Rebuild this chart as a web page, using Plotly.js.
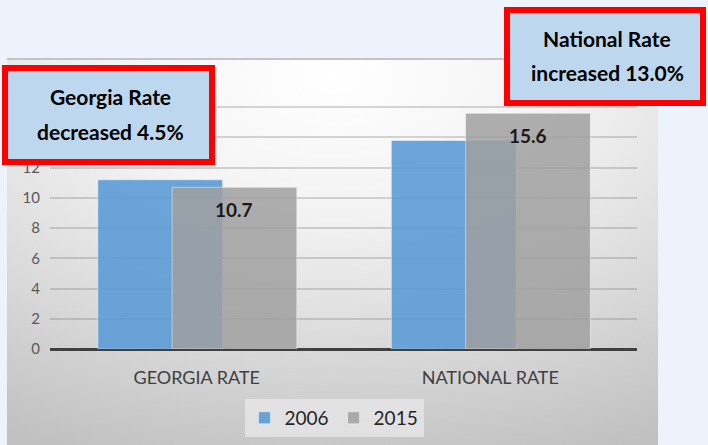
<!DOCTYPE html>
<html>
<head>
<meta charset="utf-8">
<script src="https://cdn.plot.ly/plotly-3.0.1.min.js"></script>
<style>
html,body{margin:0;padding:0;background:#EEF3FB;}
#chart{width:708px;height:445px;}
</style>
</head>
<body>
<div id="chart"></div>
<script>
// ---- data ----
const categories = ["GEORGIA RATE", "NATIONAL RATE"];
const seriesNames = ["2006", "2015"];
const values2006 = [11.2, 13.8];
const values2015 = [10.7, 15.6];
const yTicks = [0, 2, 4, 6, 8, 10, 12, 14, 16, 18];
const yTickText = ["0", "2", "4", "6", "8", "10", "12", "", "", ""]; // 14-18 hidden behind the callout
const boxGeorgia = ["Georgia Rate", "decreased 4.5%"];
const boxNational = ["National Rate", "increased 13.0%"];

// ---- layout helpers ----
const W = 708, H = 445;
const M = {l: 50, r: 71, t: 77, b: 96, autoexpand: false};
const PW = W - M.l - M.r, PH = H - M.t - M.b;
const px = x => (x - M.l) / PW;
const py = y => (H - M.b - y) / PH;

const barWidth = 0.425;
const off2006 = -0.337, off2015 = -0.084;
const font = "Lato, 'Open Sans', sans-serif";

const bg = "data:image/svg+xml;utf8," + encodeURIComponent(
 '<svg xmlns="http://www.w3.org/2000/svg" width="651" height="387" preserveAspectRatio="none">' +
 '<defs><radialGradient id="g" cx="0.5" cy="0.05" r="1.05" fx="0.5" fy="0.05">' +
 '<stop offset="0" stop-color="#FFFFFF"/><stop offset="0.35" stop-color="#F2F2F2"/>' +
 '<stop offset="1" stop-color="#C0C0C0"/></radialGradient></defs>' +
 '<rect width="651" height="387" fill="url(#g)"/>' +
 '<rect x="0" y="0" width="651" height="2" fill="#C4C4C4"/></svg>');

const traces = [
 {type: "bar", name: seriesNames[0], x: categories, y: values2006,
  width: barWidth, offset: off2006,
  marker: {color: "rgba(91,155,213,0.9)", line: {color: "rgba(255,255,255,0.45)", width: 1}},
  hoverinfo: "skip"},
 {type: "bar", name: seriesNames[1], x: categories, y: values2015,
  width: barWidth, offset: off2015,
  marker: {color: "rgba(160,160,160,0.85)", line: {color: "rgba(255,255,255,0.45)", width: 1}},
  hoverinfo: "skip"}
];

const annotations = [];
values2015.forEach((v, i) => {
 annotations.push({x: i + off2015 + barWidth / 2, y: v, xref: "x", yref: "y",
  text: "<b>" + v.toFixed(1) + "</b>", showarrow: false, yshift: -22,
  font: {family: font, size: 19, color: "#1A1A1A"}});
});
function boxText(lines, cx, ys) {
 lines.forEach((t, k) => annotations.push({x: px(cx), y: py(ys[k]), xref: "paper", yref: "paper",
  text: "<b>" + t + "</b>", showarrow: false, xanchor: "center", yanchor: "middle",
  font: {family: font, size: 21, color: "#000"}}));
}
boxText(boxGeorgia, 110, [97, 131]);
boxText(boxNational, 607, [38, 72]);

const shapes = [
 {type: "rect", xref: "paper", yref: "paper", x0: px(5), x1: px(212), y0: py(68), y1: py(162),
  fillcolor: "#BDD7EE", line: {color: "#FF0000", width: 6}, layer: "above"},
 {type: "rect", xref: "paper", yref: "paper", x0: px(507), x1: px(703), y0: py(10), y1: py(103),
  fillcolor: "#BDD7EE", line: {color: "#FF0000", width: 6}, layer: "above"}
];

const layout = {
 width: W, height: H, margin: M,
 paper_bgcolor: "#EEF3FB", plot_bgcolor: "rgba(0,0,0,0)",
 barmode: "overlay", showlegend: true,
 font: {family: font, color: "#404040"},
 xaxis: {type: "category", showgrid: false, ticks: "", showline: false,
  tickfont: {family: font, size: 18, color: "#404040"}, ticklabelstandoff: 16},
 yaxis: {range: [0, 18], tickvals: yTicks, ticktext: yTickText, ticks: "", showline: false,
  gridcolor: "rgba(110,110,110,0.28)", gridwidth: 2,
  zeroline: true, zerolinecolor: "#404040", zerolinewidth: 3,
  tickfont: {family: font, size: 15, color: "#595959"}, ticklabelstandoff: 9},
 legend: {orientation: "h", x: px(334), xanchor: "center", y: py(418), yanchor: "middle",
  bgcolor: "rgba(232,232,232,0.75)", font: {family: font, size: 19, color: "#262626"},
  itemwidth: 30, traceorder: "normal"},
 images: [{source: bg, xref: "paper", yref: "paper", x: px(7), y: py(58),
  sizex: px(658) - px(7), sizey: py(58) - py(445), xanchor: "left", yanchor: "top",
  sizing: "stretch", layer: "below"}],
 shapes: shapes, annotations: annotations
};

Plotly.newPlot("chart", traces, layout, {displayModeBar: false, staticPlot: true});
</script>
</body>
</html>
